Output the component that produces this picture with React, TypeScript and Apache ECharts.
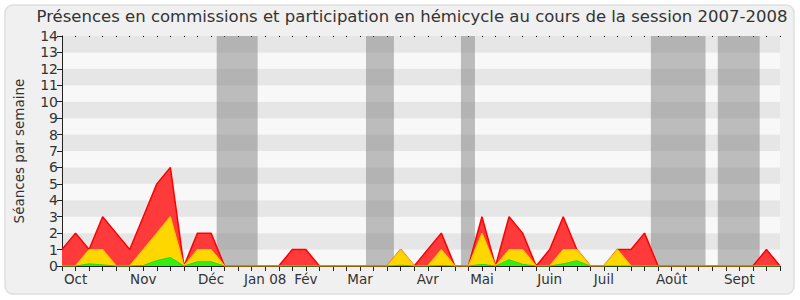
import React, { useEffect, useRef } from "react";
import * as echarts from "echarts";

const title = "Présences en commissions et participation en hémicycle au cours de la session 2007-2008";
const yAxisName = "Séances par semaine";

// weekly values (week index 0..53)
const commissions = [1, 2, 1, 3, 2, 1, 3, 5, 6, 0, 2, 2, 0, 0, 0, 0, 0, 1, 1, 0, 0, 0, 0, 0, 0, 1, 0, 1, 2, 0, 0, 3, 0, 3, 2, 0, 1, 3, 1, 0, 0, 1, 1, 2, 0, 0, 0, 0, 0, 0, 0, 0, 1, 0];
const hemicycle = [0, 0, 1, 1, 0, 0, 1, 2, 3, 0, 1, 1, 0, 0, 0, 0, 0, 0, 0, 0, 0, 0, 0, 0, 0, 1, 0, 0, 1, 0, 0, 2, 0, 1, 1, 0, 0, 1, 1, 0, 0, 1, 0, 0, 0, 0, 0, 0, 0, 0, 0, 0, 0, 0];
const interventions = [0, 0, 0.13, 0.07, 0, 0, 0.03, 0.33, 0.52, 0, 0.26, 0.26, 0, 0, 0, 0, 0, 0, 0, 0, 0, 0, 0, 0, 0, 0.05, 0, 0, 0.03, 0, 0, 0.1, 0, 0.38, 0.1, 0, 0, 0.13, 0.32, 0, 0, 0, 0, 0, 0, 0, 0, 0, 0, 0, 0, 0, 0, 0];

// month labels at week indices
const monthWeeks = [1, 6, 11, 15, 18, 22, 27, 31, 36, 40, 45, 50];
const monthNames = ["Oct", "Nov", "Déc", "Jan 08", "Fév", "Mar", "Avr", "Mai", "Juin", "Juil", "Août", "Sept"];

// parliamentary holidays, in week units
const holidays = [
  [11.42, 14.44],
  [22.44, 24.5],
  [29.45, 30.48],
  [43.47, 47.5],
  [48.41, 51.5],
];

const FONT = "DejaVu Sans";

export default function App() {
  const ref = useRef<HTMLDivElement>(null);
  useEffect(() => {
    if (!ref.current) return;
    const chart = echarts.init(ref.current, undefined, { renderer: "svg" });
    const toPairs = (arr: number[]) => arr.map((v, i) => [i, v]);
    const labelMap: Record<number, string> = {};
    monthWeeks.forEach((w, k) => (labelMap[w] = monthNames[k]));
    const n = commissions.length - 1;
    chart.setOption({
      animation: false,
      backgroundColor: "#ffffff",
      graphic: [
        {
          type: "rect",
          z: -10,
          silent: true,
          shape: { x: 5, y: 5, width: 789, height: 289, r: 8 },
          style: { fill: "#f0f0f0", stroke: "#dedede", lineWidth: 1.5 },
        },
      ],
      title: {
        text: title,
        left: 407,
        textAlign: "center",
        top: 3,
        textStyle: { fontFamily: FONT, fontSize: 16.5, fontWeight: "normal", color: "#333" },
      },
      grid: { left: 62, right: 20, top: 36, bottom: 34 },
      xAxis: [
        {
          type: "value",
          min: 0,
          max: n,
          interval: 1,
          axisLine: { show: true, lineStyle: { color: "#222", width: 1 } },
          axisTick: { show: true, length: 5, lineStyle: { color: "#222" } },
          axisLabel: {
            show: true,
            interval: 0,
            margin: 6,
            fontFamily: FONT,
            fontSize: 13.5,
            color: "#333",
            formatter: (v: number) => labelMap[Math.round(v)] ?? "",
          },
          splitLine: { show: false },
        },
        {
          type: "value",
          position: "top",
          min: 0,
          max: n,
          interval: 1,
          axisLine: { show: false },
          axisTick: { show: true, inside: true, length: 1, lineStyle: { color: "#000" } },
          axisLabel: { show: false },
          splitLine: { show: false },
        },
      ],
      yAxis: {
        type: "value",
        min: 0,
        max: 14,
        interval: 1,
        name: yAxisName,
        nameLocation: "middle",
        nameGap: 36,
        nameTextStyle: { fontFamily: FONT, fontSize: 13.5, color: "#333" },
        axisLine: { show: true, lineStyle: { color: "#222" } },
        axisTick: { show: true, length: 5, lineStyle: { color: "#222" } },
        axisLabel: { fontFamily: FONT, fontSize: 14, color: "#333", margin: 4 },
        splitLine: { show: false },
        splitArea: { show: true, areaStyle: { color: ["#f8f8f8", "#e6e6e6"] } },
      },
      series: [
        {
          type: "line",
          data: [],
          z: 1,
          silent: true,
          markArea: {
            silent: true,
            itemStyle: { color: "rgba(128,128,128,0.5)" },
            data: holidays.map(([a, b]) => [{ xAxis: a }, { xAxis: b }]),
          },
        },
        {
          name: "Commissions",
          type: "line",
          z: 3,
          data: toPairs(commissions),
          symbol: "none",
          lineStyle: { color: "#ff0000", width: 1.5 },
          areaStyle: { color: "#ff3a3a", opacity: 1 },
        },
        {
          name: "Hémicycle",
          type: "line",
          z: 4,
          data: toPairs(hemicycle),
          symbol: "none",
          lineStyle: { color: "#ffc400", width: 1.2 },
          areaStyle: { color: "#ffd700", opacity: 1 },
        },
        {
          name: "Interventions",
          type: "line",
          z: 5,
          data: toPairs(interventions),
          symbol: "none",
          lineStyle: { color: "#22dd00", width: 1 },
          areaStyle: { color: "#33ee11", opacity: 1 },
        },
      ],
    });
    return () => chart.dispose();
  }, []);
  return (
    <div
      ref={ref}
      style={{ position: "absolute", left: 0, top: 0, width: 800, height: 300 }}
    />
  );
}
